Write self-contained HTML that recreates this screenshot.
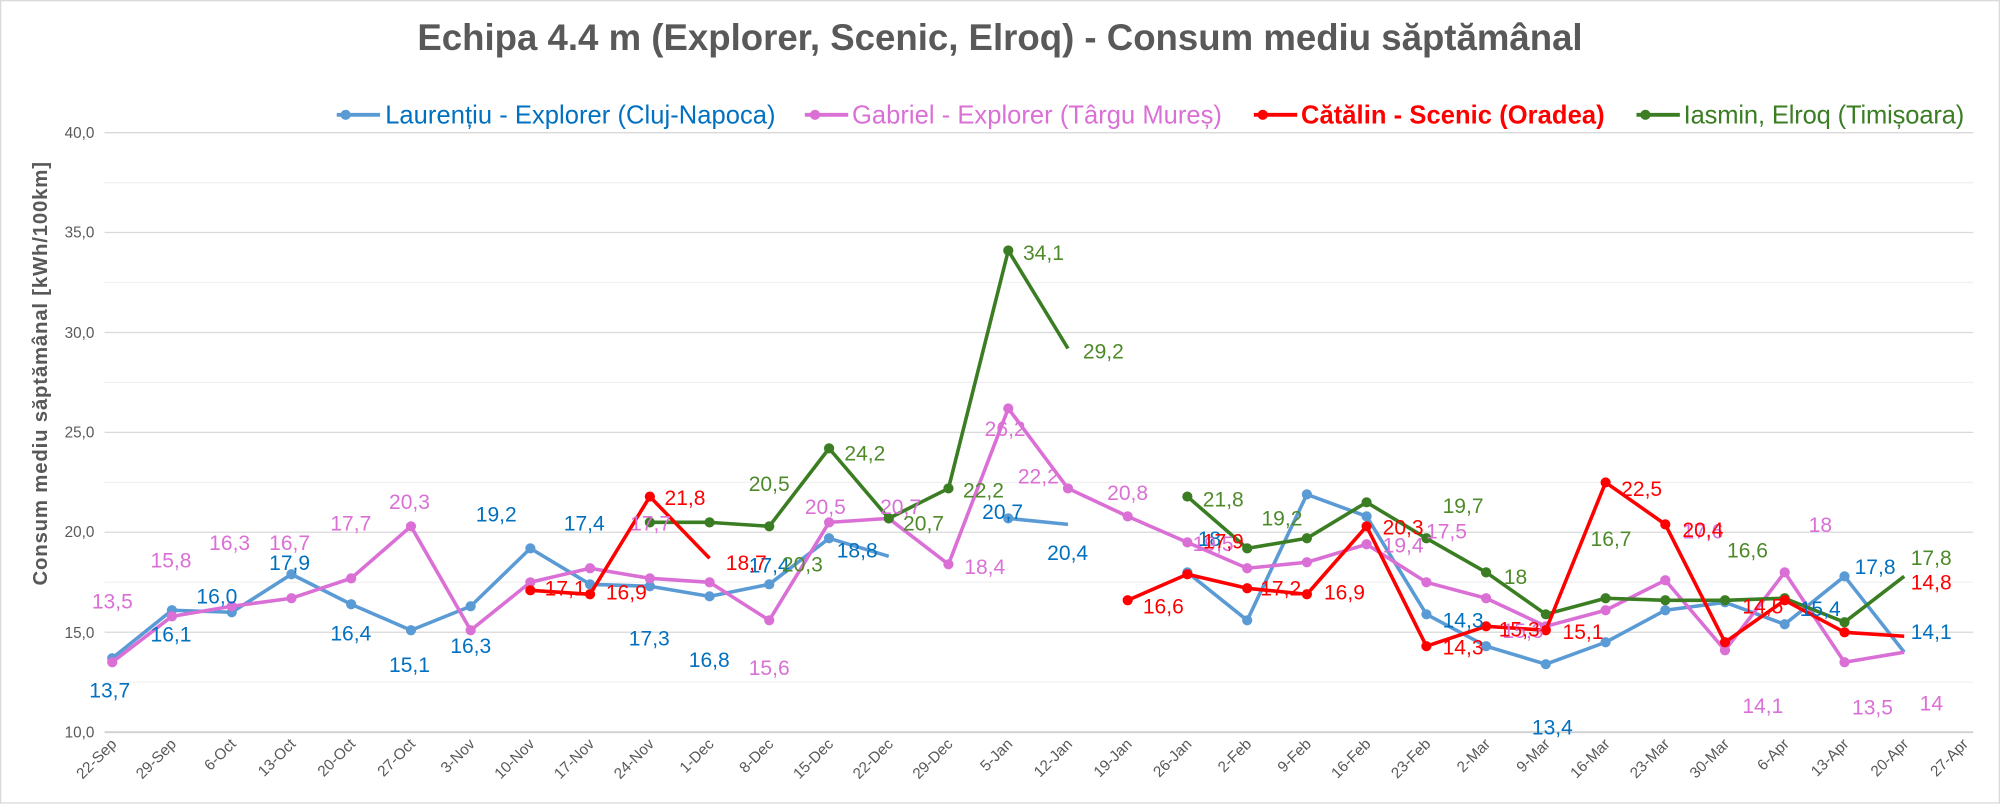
<!DOCTYPE html>
<html><head><meta charset="utf-8"><style>
html,body{margin:0;padding:0;background:#fff;}
svg{display:block;font-family:"Liberation Sans",sans-serif;}
</style></head><body>
<svg width="2000" height="804" viewBox="0 0 1568 630.3" xmlns="http://www.w3.org/2000/svg">
<rect x="0.5" y="0.5" width="1567" height="629" fill="#fff" stroke="#d9d9d9"/>
<text x="784" y="39" text-anchor="middle" font-size="28.7" font-weight="bold" fill="#595959">Echipa 4.4 m (Explorer, Scenic, Elroq) - Consum mediu săptămânal</text>
<!-- legend -->
<g font-size="20">
<line x1="264" y1="90" x2="298" y2="90" stroke="#5b9bd5" stroke-width="3"/><circle cx="271" cy="90" r="4" fill="#5b9bd5"/>
<text x="302" y="97" fill="#0070c0" textLength="306">Laurențiu - Explorer (Cluj-Napoca)</text>
<line x1="631" y1="90" x2="665" y2="90" stroke="#da70d6" stroke-width="3"/><circle cx="639" cy="90" r="4" fill="#da70d6"/>
<text x="668" y="97" fill="#da70d6" textLength="290">Gabriel - Explorer (Târgu Mureș)</text>
<line x1="983" y1="90" x2="1017" y2="90" stroke="#ff0000" stroke-width="3"/><circle cx="990" cy="90" r="4" fill="#ff0000"/>
<text x="1020" y="97" fill="#ff0000" font-weight="bold" textLength="238">Cătălin - Scenic (Oradea)</text>
<line x1="1283" y1="90" x2="1317" y2="90" stroke="#3a7d22" stroke-width="3"/><circle cx="1290" cy="90" r="4" fill="#3a7d22"/>
<text x="1320" y="97" fill="#3a7d22" textLength="220">Iasmin, Elroq (Timișoara)</text>
</g>
<!-- grid -->
<g stroke="#f0f0f0" stroke-width="1">
<line x1="82" x2="1547" y1="534.8" y2="534.8"/><line x1="82" x2="1547" y1="456.5" y2="456.5"/><line x1="82" x2="1547" y1="378.2" y2="378.2"/><line x1="82" x2="1547" y1="299.8" y2="299.8"/><line x1="82" x2="1547" y1="221.5" y2="221.5"/><line x1="82" x2="1547" y1="143.2" y2="143.2"/>
</g>
<g stroke="#d9d9d9" stroke-width="1">
<line x1="82" x2="1547" y1="495.7" y2="495.7"/><line x1="82" x2="1547" y1="417.3" y2="417.3"/><line x1="82" x2="1547" y1="339" y2="339"/><line x1="82" x2="1547" y1="260.7" y2="260.7"/><line x1="82" x2="1547" y1="182.3" y2="182.3"/><line x1="82" x2="1547" y1="104" y2="104"/>
</g>
<line x1="82" x2="1547" y1="574" y2="574" stroke="#d0d0d0" stroke-width="1.5"/>
<g font-size="12" fill="#595959" text-anchor="end">
<text x="74" y="578">10,0</text><text x="74" y="500">15,0</text><text x="74" y="421">20,0</text><text x="74" y="343">25,0</text><text x="74" y="265">30,0</text><text x="74" y="186">35,0</text><text x="74" y="108">40,0</text>
</g>
<text transform="translate(37,293) rotate(-90)" text-anchor="middle" font-size="16" font-weight="bold" fill="#595959" textLength="332">Consum mediu săptămânal [kWh/100km]</text>
<!-- x labels -->
<g font-size="12" fill="#595959" text-anchor="end">
<text transform="translate(92,584) rotate(-45)">22-Sep</text>
<text transform="translate(138.8,584) rotate(-45)">29-Sep</text>
<text transform="translate(185.7,584) rotate(-45)">6-Oct</text>
<text transform="translate(232.5,584) rotate(-45)">13-Oct</text>
<text transform="translate(279.3,584) rotate(-45)">20-Oct</text>
<text transform="translate(326.2,584) rotate(-45)">27-Oct</text>
<text transform="translate(373,584) rotate(-45)">3-Nov</text>
<text transform="translate(419.8,584) rotate(-45)">10-Nov</text>
<text transform="translate(466.6,584) rotate(-45)">17-Nov</text>
<text transform="translate(513.5,584) rotate(-45)">24-Nov</text>
<text transform="translate(560.3,584) rotate(-45)">1-Dec</text>
<text transform="translate(607.1,584) rotate(-45)">8-Dec</text>
<text transform="translate(654,584) rotate(-45)">15-Dec</text>
<text transform="translate(700.8,584) rotate(-45)">22-Dec</text>
<text transform="translate(747.6,584) rotate(-45)">29-Dec</text>
<text transform="translate(794.5,584) rotate(-45)">5-Jan</text>
<text transform="translate(841.3,584) rotate(-45)">12-Jan</text>
<text transform="translate(888.1,584) rotate(-45)">19-Jan</text>
<text transform="translate(934.9,584) rotate(-45)">26-Jan</text>
<text transform="translate(981.8,584) rotate(-45)">2-Feb</text>
<text transform="translate(1028.6,584) rotate(-45)">9-Feb</text>
<text transform="translate(1075.4,584) rotate(-45)">16-Feb</text>
<text transform="translate(1122.3,584) rotate(-45)">23-Feb</text>
<text transform="translate(1169.1,584) rotate(-45)">2-Mar</text>
<text transform="translate(1215.9,584) rotate(-45)">9-Mar</text>
<text transform="translate(1262.8,584) rotate(-45)">16-Mar</text>
<text transform="translate(1309.6,584) rotate(-45)">23-Mar</text>
<text transform="translate(1356.4,584) rotate(-45)">30-Mar</text>
<text transform="translate(1403.2,584) rotate(-45)">6-Apr</text>
<text transform="translate(1450.1,584) rotate(-45)">13-Apr</text>
<text transform="translate(1496.9,584) rotate(-45)">20-Apr</text>
<text transform="translate(1543.7,584) rotate(-45)">27-Apr</text>
</g>
<!-- blue -->
<g fill="none" stroke="#5b9bd5" stroke-width="2.8" stroke-linejoin="round">
<polyline points="88,516 134.8,478.4 181.7,480 228.5,450.2 275.3,473.7 322.2,494.1 369,475.3 415.8,429.9 462.6,458.1 509.5,459.6 556.3,467.5 603.1,458.1 650,422 696.8,436.1"/>
<polyline points="790.5,406.4 837.3,411.1"/>
<polyline points="930.9,448.7 977.8,486.3 1024.6,387.6 1071.4,404.8 1118.3,481.6 1165.1,506.6 1211.9,520.7 1258.8,503.5 1305.6,478.4 1352.4,472.2 1399.2,489.4 1446.1,451.8 1492.9,511.3"/>
</g>
<g fill="#5b9bd5">
<circle cx="88" cy="516" r="4"/><circle cx="134.8" cy="478.4" r="4"/><circle cx="181.7" cy="480" r="4"/><circle cx="228.5" cy="450.2" r="4"/><circle cx="275.3" cy="473.7" r="4"/><circle cx="322.2" cy="494.1" r="4"/><circle cx="369" cy="475.3" r="4"/><circle cx="415.8" cy="429.9" r="4"/><circle cx="462.6" cy="458.1" r="4"/><circle cx="509.5" cy="459.6" r="4"/><circle cx="556.3" cy="467.5" r="4"/><circle cx="603.1" cy="458.1" r="4"/><circle cx="650" cy="422" r="4"/><circle cx="790.5" cy="406.4" r="4"/><circle cx="930.9" cy="448.7" r="4"/><circle cx="977.8" cy="486.3" r="4"/><circle cx="1024.6" cy="387.6" r="4"/><circle cx="1071.4" cy="404.8" r="4"/><circle cx="1118.3" cy="481.6" r="4"/><circle cx="1165.1" cy="506.6" r="4"/><circle cx="1211.9" cy="520.7" r="4"/><circle cx="1258.8" cy="503.5" r="4"/><circle cx="1305.6" cy="478.4" r="4"/><circle cx="1352.4" cy="472.2" r="4"/><circle cx="1399.2" cy="489.4" r="4"/><circle cx="1446.1" cy="451.8" r="4"/>
</g>
<!-- pink -->
<g fill="none" stroke="#da70d6" stroke-width="2.8" stroke-linejoin="round">
<polyline points="88,519.2 134.8,483.2 181.7,475.3 228.5,469 275.3,453.4 322.2,412.6 369,494.1 415.8,456.5 462.6,445.5 509.5,453.4 556.3,456.5 603.1,486.3 650,409.5 696.8,406.4 743.6,442.4 790.5,320.2 837.3,382.9 884.1,404.8 930.9,425.2 977.8,445.5 1024.6,440.8 1071.4,426.7 1118.3,456.5 1165.1,469 1211.9,491 1258.8,478.4 1305.6,454.9 1352.4,509.8 1399.2,448.7 1446.1,519.2 1492.9,511.3"/>
</g>
<g fill="#da70d6">
<circle cx="88" cy="519.2" r="4"/><circle cx="134.8" cy="483.2" r="4"/><circle cx="181.7" cy="475.3" r="4"/><circle cx="228.5" cy="469" r="4"/><circle cx="275.3" cy="453.4" r="4"/><circle cx="322.2" cy="412.6" r="4"/><circle cx="369" cy="494.1" r="4"/><circle cx="415.8" cy="456.5" r="4"/><circle cx="462.6" cy="445.5" r="4"/><circle cx="509.5" cy="453.4" r="4"/><circle cx="556.3" cy="456.5" r="4"/><circle cx="603.1" cy="486.3" r="4"/><circle cx="650" cy="409.5" r="4"/><circle cx="696.8" cy="406.4" r="4"/><circle cx="743.6" cy="442.4" r="4"/><circle cx="790.5" cy="320.2" r="4"/><circle cx="837.3" cy="382.9" r="4"/><circle cx="884.1" cy="404.8" r="4"/><circle cx="930.9" cy="425.2" r="4"/><circle cx="977.8" cy="445.5" r="4"/><circle cx="1024.6" cy="440.8" r="4"/><circle cx="1071.4" cy="426.7" r="4"/><circle cx="1118.3" cy="456.5" r="4"/><circle cx="1165.1" cy="469" r="4"/><circle cx="1211.9" cy="491" r="4"/><circle cx="1258.8" cy="478.4" r="4"/><circle cx="1305.6" cy="454.9" r="4"/><circle cx="1352.4" cy="509.8" r="4"/><circle cx="1399.2" cy="448.7" r="4"/><circle cx="1446.1" cy="519.2" r="4"/>
</g>
<!-- green -->
<g fill="none" stroke="#3a7d22" stroke-width="2.8" stroke-linejoin="round">
<polyline points="509.5,409.5 556.3,409.5 603.1,412.6 650,351.5 696.8,406.4 743.6,382.9 790.5,196.4 837.3,273.2"/>
<polyline points="930.9,389.3 977.8,429.9 1024.6,422 1071.4,393.8 1118.3,422 1165.1,448.7 1211.9,481.6 1258.8,469 1305.6,470.6 1352.4,470.6 1399.2,469 1446.1,487.8 1492.9,451.8"/>
</g>
<g fill="#3a7d22">
<circle cx="509.5" cy="409.5" r="4"/><circle cx="556.3" cy="409.5" r="4"/><circle cx="603.1" cy="412.6" r="4"/><circle cx="650" cy="351.5" r="4"/><circle cx="696.8" cy="406.4" r="4"/><circle cx="743.6" cy="382.9" r="4"/><circle cx="790.5" cy="196.4" r="4"/><circle cx="930.9" cy="389.3" r="4"/><circle cx="977.8" cy="429.9" r="4"/><circle cx="1024.6" cy="422" r="4"/><circle cx="1071.4" cy="393.8" r="4"/><circle cx="1118.3" cy="422" r="4"/><circle cx="1165.1" cy="448.7" r="4"/><circle cx="1211.9" cy="481.6" r="4"/><circle cx="1258.8" cy="469" r="4"/><circle cx="1305.6" cy="470.6" r="4"/><circle cx="1352.4" cy="470.6" r="4"/><circle cx="1399.2" cy="469" r="4"/><circle cx="1446.1" cy="487.8" r="4"/>
</g>
<!-- red -->
<g fill="none" stroke="#ff0000" stroke-width="2.8" stroke-linejoin="round">
<polyline points="415.8,462.8 462.6,465.9 509.5,389.3 556.3,437.7"/>
<polyline points="884.1,470.6 930.9,450.2 977.8,461.2 1024.6,465.9 1071.4,412.6 1118.3,506.6 1165.1,491 1211.9,494.1 1258.8,378.2 1305.6,411.1 1352.4,503.5 1399.2,470.6 1446.1,495.7 1492.9,498.8"/>
</g>
<g fill="#ff0000">
<circle cx="415.8" cy="462.8" r="4"/><circle cx="462.6" cy="465.9" r="4"/><circle cx="509.5" cy="389.3" r="4"/><circle cx="884.1" cy="470.6" r="4"/><circle cx="930.9" cy="450.2" r="4"/><circle cx="977.8" cy="461.2" r="4"/><circle cx="1024.6" cy="465.9" r="4"/><circle cx="1071.4" cy="412.6" r="4"/><circle cx="1118.3" cy="506.6" r="4"/><circle cx="1165.1" cy="491" r="4"/><circle cx="1211.9" cy="494.1" r="4"/><circle cx="1258.8" cy="378.2" r="4"/><circle cx="1305.6" cy="411.1" r="4"/><circle cx="1352.4" cy="503.5" r="4"/><circle cx="1399.2" cy="470.6" r="4"/><circle cx="1446.1" cy="495.7" r="4"/>
</g>
<!-- labels -->
<g font-size="16.5" fill="#0070c0">
<text x="70" y="547">13,7</text><text x="118" y="503">16,1</text><text x="154" y="473">16,0</text><text x="211" y="447">17,9</text><text x="259" y="502">16,4</text><text x="305" y="527">15,1</text><text x="353" y="512">16,3</text><text x="373" y="409">19,2</text><text x="442" y="416">17,4</text><text x="493" y="506">17,3</text><text x="540" y="523">16,8</text><text x="587" y="449">17,4</text><text x="656" y="437">18,8</text><text x="770" y="407">20,7</text><text x="821" y="439">20,4</text><text x="939" y="428">18</text><text x="1131" y="492">14,3</text><text x="1201" y="576">13,4</text><text x="1411" y="483">15,4</text><text x="1454" y="450">17,8</text><text x="1498" y="501">14,1</text>
</g>
<g font-size="16.5" fill="#da70d6">
<text x="72" y="477">13,5</text><text x="118" y="445">15,8</text><text x="164" y="431">16,3</text><text x="211" y="431">16,7</text><text x="259" y="416">17,7</text><text x="305" y="399">20,3</text><text x="494" y="416">17,7</text><text x="587" y="529">15,6</text><text x="631" y="403">20,5</text><text x="690" y="403">20,7</text><text x="756" y="450">18,4</text><text x="772" y="342">26,2</text><text x="798" y="379">22,2</text><text x="868" y="392">20,8</text><text x="935" y="432">19,5</text><text x="1084" y="433">19,4</text><text x="1118" y="422">17,5</text><text x="1178" y="500">15,3</text><text x="1319" y="422">17,6</text><text x="1366" y="559">14,1</text><text x="1418" y="417">18</text><text x="1452" y="560">13,5</text><text x="1505" y="557">14</text>
</g>
<g font-size="16.5" fill="#ff0000">
<text x="521" y="396">21,8</text><text x="427" y="467">17,1</text><text x="475" y="470">16,9</text><text x="569" y="447">18,7</text><text x="896" y="481">16,6</text><text x="943" y="430">17,9</text><text x="988" y="467">17,2</text><text x="1038" y="470">16,9</text><text x="1084" y="419">20,3</text><text x="1131" y="513">14,3</text><text x="1175" y="499">15,3</text><text x="1225" y="501">15,1</text><text x="1271" y="389">22,5</text><text x="1319" y="421">20,4</text><text x="1366" y="481">14,5</text><text x="1498" y="462">14,8</text>
</g>
<g font-size="16.5" fill="#4e8a2a">
<text x="802" y="204">34,1</text><text x="849" y="281">29,2</text><text x="662" y="361">24,2</text><text x="587" y="385">20,5</text><text x="613" y="448">20,3</text><text x="708" y="416">20,7</text><text x="755" y="390">22,2</text><text x="943" y="397">21,8</text><text x="989" y="412">19,2</text><text x="1131" y="402">19,7</text><text x="1179" y="458">18</text><text x="1247" y="428">16,7</text><text x="1354" y="437">16,6</text><text x="1498" y="443">17,8</text>
</g>
</svg>
</body></html>
